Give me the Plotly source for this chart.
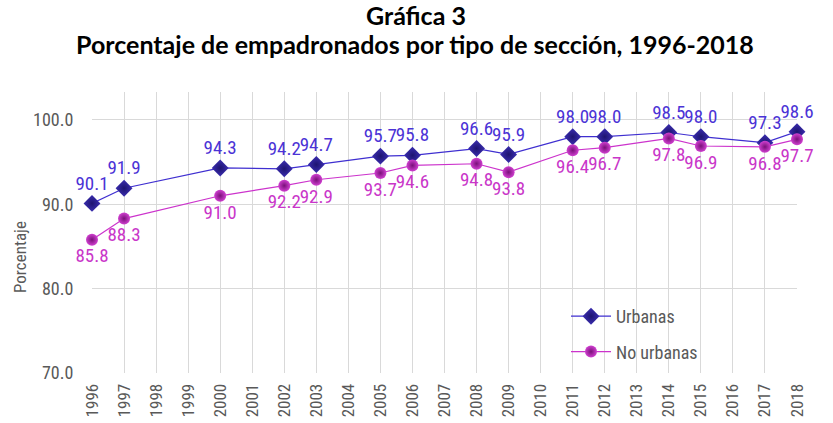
import plotly.graph_objects as go

years = [1996, 1997, 2000, 2002, 2003, 2005, 2006, 2008, 2009, 2011, 2012, 2014, 2015, 2017, 2018]
urbanas = [90.1, 91.9, 94.3, 94.2, 94.7, 95.7, 95.8, 96.6, 95.9, 98.0, 98.0, 98.5, 98.0, 97.3, 98.6]
no_urbanas = [85.8, 88.3, 91.0, 92.2, 92.9, 93.7, 94.6, 94.8, 93.8, 96.4, 96.7, 97.8, 96.9, 96.8, 97.7]
tick_years = list(range(1996, 2019))

narrow = "Liberation Sans Narrow, Arial Narrow, Roboto Condensed, Liberation Sans"

W, H = 833, 423
L, R, T, B = 92, 36, 92, 50
pw, ph = W - L - R, H - T - B

def px(xp):
    return (xp - L) / pw

def py(yp):
    return (H - B - yp) / ph

fig = go.Figure()
fig.add_trace(go.Scatter(
    x=years, y=urbanas, name="Urbanas", mode="lines+markers+text",
    legendgroup="u",
    line=dict(color="#3F2FD0", width=1.2),
    marker=dict(symbol="diamond", size=13, color="#3A2DB0",
                gradient=dict(type="radial", color="#1E1470")),
    text=[f"{v:.1f}" for v in urbanas], textposition="top center",
    textfont=dict(family=narrow, size=19, color="#4B33D6"),
    cliponaxis=False,
))
fig.add_trace(go.Scatter(
    x=years, y=no_urbanas, name="No urbanas", mode="lines+markers+text",
    legendgroup="n",
    line=dict(color="#CC33CC", width=1.2),
    marker=dict(symbol="circle", size=12, color="#D040D0",
                gradient=dict(type="radial", color="#7A107A")),
    text=[f"{v:.1f}" for v in no_urbanas], textposition="bottom center",
    textfont=dict(family=narrow, size=19, color="#C936C9"),
    cliponaxis=False,
))

fig.update_layout(
    width=W, height=H,
    margin=dict(l=L, r=R, t=T, b=B, autoexpand=False),
    paper_bgcolor="white", plot_bgcolor="white",
    showlegend=True,
    legend=dict(x=px(566), y=py(298), xanchor="left", yanchor="top",
                bgcolor="rgba(255,255,255,0)",
                font=dict(family=narrow, size=18, color="#595959"),
                itemwidth=40, tracegroupgap=9),
    xaxis=dict(range=[1996, 2018], tickmode="array", tickvals=tick_years,
               ticktext=[str(y) for y in tick_years], tickangle=-90,
               showgrid=True, gridcolor="#D9D9D9", gridwidth=1,
               zeroline=False, showline=False, ticks="outside", ticklen=3,
               tickcolor="rgba(0,0,0,0)", automargin=False,
               tickfont=dict(family=narrow, size=17, color="#595959")),
    yaxis=dict(range=[70, 103.3], tickvals=[70, 80, 90, 100], tickformat=".1f",
               showgrid=True, gridcolor="#D9D9D9", gridwidth=1,
               zeroline=False, showline=False, ticks="outside", ticklen=14,
               tickcolor="rgba(0,0,0,0)", automargin=False,
               tickfont=dict(family=narrow, size=18, color="#595959")),
    annotations=[
        dict(text="<b>Gráfica 3</b>", x=px(416), y=py(15), xref="paper", yref="paper",
             xanchor="center", yanchor="middle", showarrow=False,
             font=dict(family="Lato, Open Sans, sans-serif", size=25, color="black")),
        dict(text="<b>Porcentaje de empadronados por tipo de sección, 1996-2018</b>",
             x=px(415), y=py(44), xref="paper", yref="paper",
             xanchor="center", yanchor="middle", showarrow=False,
             font=dict(family="Lato, Open Sans, sans-serif", size=25, color="black")),
        dict(text="Porcentaje", textangle=-90, x=px(20), y=py(257),
             xref="paper", yref="paper", xanchor="center", yanchor="middle",
             showarrow=False,
             font=dict(family=narrow, size=17, color="#595959")),
    ],
)

fig.write_html("out.html", config={"displayModeBar": False},
               post_script="document.body.style.margin='0';document.body.style.overflow='hidden';")
